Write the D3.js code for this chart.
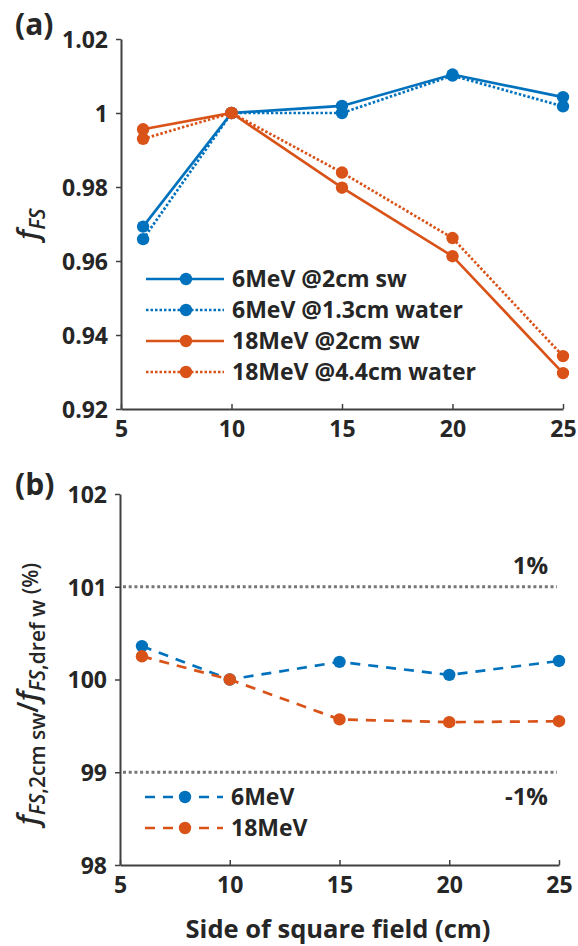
<!DOCTYPE html>
<html>
<head>
<meta charset="utf-8">
<script src="https://cdn.jsdelivr.net/npm/d3@7"></script>
<style>
  body { margin: 0; background: #fff; }
  svg { font-family: 'Open Sans', sans-serif; }
</style>
</head>
<body>
<svg id="chart" width="578" height="946"></svg>
<script>
const fieldSizes = [6, 10, 15, 20, 25];
const fs6Sw = [0.9693, 1.0, 1.0019, 1.0104, 1.0043];
const fs6Water = [0.9659, 1.0, 1.0, 1.0101, 1.0018];
const fs18Sw = [0.9956, 1.0, 0.9798, 0.9613, 0.9297];
const fs18Water = [0.993, 1.0, 0.9839, 0.9662, 0.9343];
const ratio6 = [100.36, 100.0, 100.19, 100.05, 100.2];
const ratio18 = [100.25, 100.0, 99.57, 99.54, 99.55];
const xTicks = [5, 10, 15, 20, 25];
const topTicks = [0.92, 0.94, 0.96, 0.98, 1.0, 1.02];
const bottomTicks = [98, 99, 100, 101, 102];
const guideLevels = [101, 99];
const guideLabels = ['1%', '-1%'];

const blue = '#0072bd';
const orange = '#d95319';
const ink = '#262626';

const svg = d3.select('#chart');

const topSeries = [
  { name: '6MeV @2cm sw', values: fs6Sw, colour: blue, dash: null },
  { name: '6MeV @1.3cm water', values: fs6Water, colour: blue, dash: '2.5,2' },
  { name: '18MeV @2cm sw', values: fs18Sw, colour: orange, dash: null },
  { name: '18MeV @4.4cm water', values: fs18Water, colour: orange, dash: '2.5,2' },
];
const bottomSeries = [
  { name: '6MeV', values: ratio6, colour: blue, dash: '10,8' },
  { name: '18MeV', values: ratio18, colour: orange, dash: '10,8' },
];

const drawAxes = (g, x, y, yTicks, yFormat) => {
  const xAxis = g.append('g')
    .attr('transform', `translate(0,${y.range()[0]})`)
    .call(d3.axisBottom(x).tickValues(xTicks).tickSizeInner(-5).tickSizeOuter(0).tickPadding(12));
  const yAxis = g.append('g')
    .attr('transform', `translate(${x.range()[0]},0)`)
    .call(d3.axisLeft(y).tickValues(yTicks).tickFormat(yFormat).tickSizeInner(5).tickSizeOuter(0).tickPadding(8));
  [xAxis, yAxis].forEach((a) => {
    a.attr('font-size', null).attr('font-family', null);
    a.select('.domain').attr('stroke', '#404040').attr('stroke-width', 2);
    a.selectAll('.tick line').attr('stroke', '#404040').attr('stroke-width', 1.5);
    a.selectAll('.tick text')
      .attr('fill', ink)
      .style('font-size', '23px')
      .style('font-weight', 700);
  });
  xAxis.selectAll('.tick text').attr('dy', '0.71em');
  yAxis.selectAll('.tick text').attr('dy', '0.36em');
};

const drawSeries = (g, x, y, series) => {
  const line = d3.line()
    .x((d, i) => x(fieldSizes[i]))
    .y(d => y(d));
  series.forEach((s) => {
    g.append('path')
      .attr('d', line(s.values))
      .attr('fill', 'none')
      .attr('stroke', s.colour)
      .attr('stroke-width', 2.7)
      .attr('stroke-dasharray', s.dash);
    g.selectAll(null)
      .data(s.values)
      .enter()
      .append('circle')
      .attr('cx', (d, i) => x(fieldSizes[i]))
      .attr('cy', d => y(d))
      .attr('r', 6.2)
      .attr('fill', s.colour);
  });
};

const drawLegend = (g, series, left, top, step) => {
  const row = g.selectAll('.legend-row')
    .data(series)
    .enter()
    .append('g')
    .attr('class', 'legend-row')
    .attr('transform', (d, i) => `translate(${left},${top + i * step})`);
  row.append('line')
    .attr('x1', 0)
    .attr('x2', 78)
    .attr('stroke', d => d.colour)
    .attr('stroke-width', 2.7)
    .attr('stroke-dasharray', d => d.dash);
  row.append('circle')
    .attr('cx', 40)
    .attr('r', 6.2)
    .attr('fill', d => d.colour);
  row.append('text')
    .attr('x', 86)
    .attr('dy', '0.36em')
    .attr('fill', ink)
    .style('font-size', '23px')
    .style('font-weight', 700)
    .text(d => d.name);
};

// panel (a)
const xTop = d3.scaleLinear().domain([5, 25]).range([121, 563]);
const yTop = d3.scaleLinear().domain([0.92, 1.02]).range([409, 39]);
const gTop = svg.append('g');
drawAxes(gTop, xTop, yTop, topTicks, d => (d === 1 ? '1' : d3.format('.2f')(d)));
drawSeries(gTop, xTop, yTop, topSeries);
drawLegend(gTop, topSeries, 146, 279, 31);

// panel (b)
const xBot = d3.scaleLinear().domain([5, 25]).range([120, 559]);
const yBot = d3.scaleLinear().domain([98, 102]).range([865, 494]);
const gBot = svg.append('g');
drawAxes(gBot, xBot, yBot, bottomTicks, d3.format('d'));

gBot.selectAll('.guide')
  .data(guideLevels)
  .enter()
  .append('line')
  .attr('class', 'guide')
  .attr('x1', xBot(5) + 3)
  .attr('x2', 557)
  .attr('y1', d => yBot(d))
  .attr('y2', d => yBot(d))
  .attr('stroke', '#777')
  .attr('stroke-width', 3)
  .attr('stroke-dasharray', '3,2.7');

gBot.selectAll('.guide-label')
  .data(guideLevels)
  .enter()
  .append('text')
  .attr('class', 'guide-label')
  .attr('x', 548)
  .attr('y', (d, i) => yBot(d) + (i === 0 ? -13 : 33))
  .attr('text-anchor', 'end')
  .attr('fill', ink)
  .style('font-size', '24px')
  .style('font-weight', 700)
  .text((d, i) => guideLabels[i]);

drawSeries(gBot, xBot, yBot, bottomSeries);
drawLegend(gBot, bottomSeries, 145, 797, 31);

// panel letters
svg.append('text').attr('x', 15).attr('y', 35)
  .attr('fill', ink).style('font-size', '30px').style('font-weight', 700)
  .text('(a)');
svg.append('text').attr('x', 15).attr('y', 495)
  .attr('fill', ink).style('font-size', '30px').style('font-weight', 700)
  .text('(b)');

// x title
svg.append('text')
  .attr('x', 338)
  .attr('y', 938)
  .attr('text-anchor', 'middle')
  .attr('fill', ink)
  .style('font-size', '25.5px')
  .style('font-weight', 700)
  .text('Side of square field (cm)');

// y titles
const topTitle = svg.append('text')
  .attr('transform', 'translate(38,224) rotate(-90)')
  .attr('text-anchor', 'middle')
  .attr('fill', ink)
  .style('font-weight', 600);
topTitle.append('tspan').style('font-size', '29px').style('font-style', 'italic').text('f');
topTitle.append('tspan').attr('dy', 7).style('font-size', '21px').style('font-style', 'italic').text('FS');

const botTitle = svg.append('text')
  .attr('transform', 'translate(38,694) rotate(-90)')
  .attr('text-anchor', 'middle')
  .attr('fill', ink)
  .style('font-weight', 600);
const sub = [
  { t: 'f', size: 29, italic: true, dy: 0 },
  { t: 'FS', size: 21, italic: true, dy: 7 },
  { t: ',2cm sw', size: 21, italic: false, dy: 0 },
  { t: '/', size: 29, italic: false, dy: -7 },
  { t: 'f', size: 29, italic: true, dy: 0 },
  { t: 'FS', size: 21, italic: true, dy: 7 },
  { t: ',dref w', size: 21, italic: false, dy: 0 },
  { t: '\u00a0(%)', size: 21, italic: false, dy: -7 },
];
sub.forEach((p) => {
  botTitle.append('tspan')
    .attr('dy', p.dy)
    .style('font-size', `${p.size}px`)
    .style('font-style', p.italic ? 'italic' : 'normal')
    .text(p.t);
});
</script>
</body>
</html>
